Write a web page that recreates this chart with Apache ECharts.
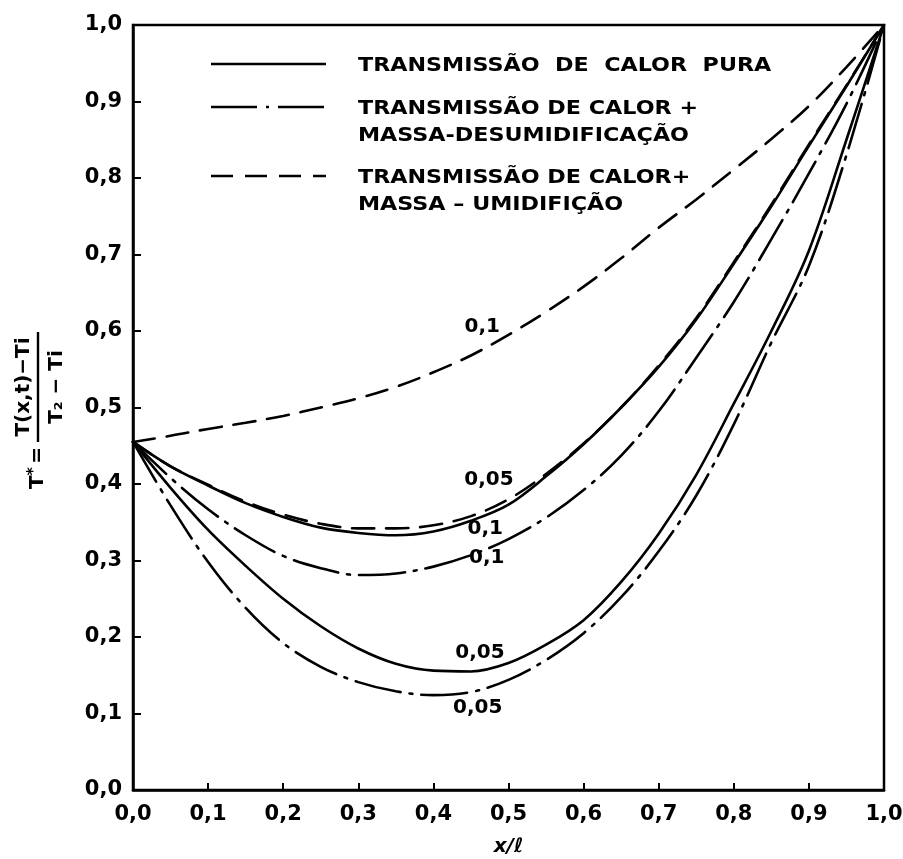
<!DOCTYPE html>
<html>
<head>
<meta charset="utf-8">
<script src="https://cdn.jsdelivr.net/npm/echarts@6/dist/echarts.min.js"></script>
<style>
  html, body { margin: 0; padding: 0; background: #fff; }
  #chart { width: 903px; height: 859px; }
</style>
</head>
<body>
<div id="chart"></div>
<script>
// Position x/ℓ along the wall
const xValues = [0, 0.05, 0.1, 0.15, 0.2, 0.25, 0.3, 0.35, 0.4, 0.45, 0.5,
                 0.55, 0.6, 0.65, 0.7, 0.75, 0.8, 0.85, 0.9, 0.95, 1.0];

// Dimensionless temperature T* for each case and time
const pureHeat01 = [0.455, 0.423, 0.398, 0.375, 0.357, 0.343, 0.336, 0.333, 0.338, 0.352, 0.373,
                    0.410, 0.452, 0.500, 0.553, 0.615, 0.688, 0.763, 0.842, 0.920, 1.0];
const pureHeat005 = [0.455, 0.395, 0.340, 0.293, 0.250, 0.214, 0.185, 0.165, 0.156, 0.155, 0.166,
                     0.190, 0.222, 0.272, 0.335, 0.412, 0.505, 0.600, 0.705, 0.850, 1.0];
const dehumid01 = [0.455, 0.408, 0.367, 0.333, 0.306, 0.290, 0.281, 0.283, 0.292, 0.307, 0.328,
                   0.356, 0.392, 0.437, 0.495, 0.565, 0.638, 0.720, 0.806, 0.897, 1.0];
const dehumid005 = [0.455, 0.372, 0.298, 0.238, 0.192, 0.161, 0.141, 0.129, 0.124, 0.128, 0.144,
                    0.170, 0.205, 0.252, 0.312, 0.385, 0.478, 0.585, 0.685, 0.830, 1.0];
const humid01 = [0.455, 0.463, 0.472, 0.480, 0.489, 0.500, 0.512, 0.527, 0.546, 0.568, 0.595,
                 0.625, 0.658, 0.695, 0.735, 0.772, 0.811, 0.851, 0.894, 0.945, 1.0];
const humid005 = [0.455, 0.423, 0.399, 0.377, 0.360, 0.348, 0.342, 0.342, 0.346, 0.358, 0.380,
                  0.413, 0.453, 0.500, 0.555, 0.617, 0.690, 0.765, 0.844, 0.921, 1.0];

// Tick labels (comma decimal)
const tickLabels = ['0,0', '0,1', '0,2', '0,3', '0,4', '0,5', '0,6', '0,7', '0,8', '0,9', '1,0'];

// Legend entries
const caseNames = [
  'TRANSMISSÃO  DE  CALOR  PURA',
  'TRANSMISSÃO DE CALOR +\nMASSA-DESUMIDIFICAÇÃO',
  'TRANSMISSÃO DE CALOR+\nMASSA – UMIDIFIÇÃO'
];

const FONT = 'DejaVu Sans';
const DASH_DOT = [46, 9, 3, 9];
const DASHED = [22, 12];
const styles = ['solid', DASH_DOT, DASHED];

function pairs(ys) { return xValues.map((x, i) => [x, ys[i]]); }
function tickText(v) { return tickLabels[Math.round(v * 10)]; }

function curve(name, ys, type) {
  return {
    name: name,
    type: 'line',
    data: pairs(ys),
    smooth: 0.35,
    showSymbol: false,
    silent: true,
    lineStyle: { color: '#000', width: 2.6, type: type, cap: 'round' },
    z: 3
  };
}

const chart = echarts.init(document.getElementById('chart'), null, { renderer: 'canvas' });

const option = {
  backgroundColor: '#fff',
  animation: false,
  grid: {
    left: 133, right: 19, top: 25, bottom: 69,
    show: true, borderColor: '#000', borderWidth: 2.5,
    containLabel: false, outerBoundsMode: 'none'
  },
  xAxis: {
    type: 'value', min: 0, max: 1, interval: 0.1,
    name: 'x/ℓ', nameLocation: 'middle', nameGap: 47,
    nameTextStyle: { fontFamily: FONT, fontSize: 20, fontWeight: 'bold', fontStyle: 'italic', color: '#000' },
    axisLine: { lineStyle: { color: '#000', width: 2.5 } },
    axisTick: { inside: true, length: 7, lineStyle: { color: '#000', width: 2 } },
    axisLabel: { formatter: tickText, margin: 14, fontFamily: FONT, fontSize: 21, fontWeight: 'bold', color: '#000' },
    splitLine: { show: false }
  },
  yAxis: {
    type: 'value', min: 0, max: 1, interval: 0.1,
    axisLine: { lineStyle: { color: '#000', width: 2.5 } },
    axisTick: { inside: true, length: 8, lineStyle: { color: '#000', width: 2 } },
    axisLabel: { formatter: tickText, margin: 11, fontFamily: FONT, fontSize: 21, fontWeight: 'bold', color: '#000' },
    splitLine: { show: false }
  },
  series: [
    curve(caseNames[0], pureHeat01, styles[0]),
    curve(caseNames[0], pureHeat005, styles[0]),
    curve(caseNames[1], dehumid01, styles[1]),
    curve(caseNames[1], dehumid005, styles[1]),
    curve(caseNames[2], humid01, styles[2]),
    curve(caseNames[2], humid005, styles[2])
  ]
};

chart.setOption(option);

// Legend: line sample followed by the case name
const legendRows = [64, 107, 176];
const legendGraphics = [];
caseNames.forEach((name, i) => {
  const y = legendRows[i];
  const st = styles[i];
  legendGraphics.push({
    type: 'line',
    shape: { x1: 211, y1: y, x2: 326, y2: y },
    style: { stroke: '#000', lineWidth: 2.6, lineDash: st === 'solid' ? null : st },
    silent: true
  });
  legendGraphics.push({
    type: 'text',
    x: 358, y: y - 11,
    scaleX: 1.17,
    style: {
      text: name, fill: '#000',
      font: 'bold 19px "' + FONT + '"',
      lineHeight: 27, align: 'left', verticalAlign: 'top'
    },
    silent: true
  });
});

// Parameter labels next to the curves (anchored in data coordinates)
const curveLabels = [
  ['0,1', 0.465, 0.605],
  ['0,05', 0.474, 0.405],
  ['0,1', 0.469, 0.342],
  ['0,1', 0.471, 0.303],
  ['0,05', 0.462, 0.179],
  ['0,05', 0.459, 0.108]
];
const labelGraphics = curveLabels.map(([txt, x, y]) => {
  const p = chart.convertToPixel({ gridIndex: 0 }, [x, y]);
  return {
    type: 'text', x: p[0], y: p[1],
    style: {
      text: txt, fill: '#000', font: 'bold 20px "' + FONT + '"',
      align: 'center', verticalAlign: 'middle'
    },
    silent: true, z: 5
  };
});

// Vertical axis title: T* = (T(x,t) − Ti) / (T2 − Ti), reading bottom to top
const yTitle = {
  type: 'group', x: 38, y: 387, rotation: Math.PI / 2,
  children: [
    { type: 'line', shape: { x1: -55, y1: 0, x2: 55, y2: 0 }, style: { stroke: '#000', lineWidth: 2.4 } },
    { type: 'text', x: 0, y: -4, style: { text: 'T(x,t)−Ti', fill: '#000', font: 'bold 20px "' + FONT + '"', align: 'center', verticalAlign: 'bottom' } },
    { type: 'text', x: 0, y: 9, style: { text: 'T₂ − Ti', fill: '#000', font: 'bold 20px "' + FONT + '"', align: 'center', verticalAlign: 'top' } },
    { type: 'text', x: -60, y: 0, style: {
        text: '{t|T}{s|*} {t|=}', align: 'right', verticalAlign: 'middle',
        rich: {
          t: { fill: '#000', font: 'bold 20px "' + FONT + '"' },
          s: { fill: '#000', font: 'bold 16px "' + FONT + '"', verticalAlign: 'top', padding: [0, 0, 8, 0] }
        }
      } }
  ],
  silent: true
};

chart.setOption({ graphic: legendGraphics.concat(labelGraphics, [yTitle]) });
</script>
</body>
</html>
